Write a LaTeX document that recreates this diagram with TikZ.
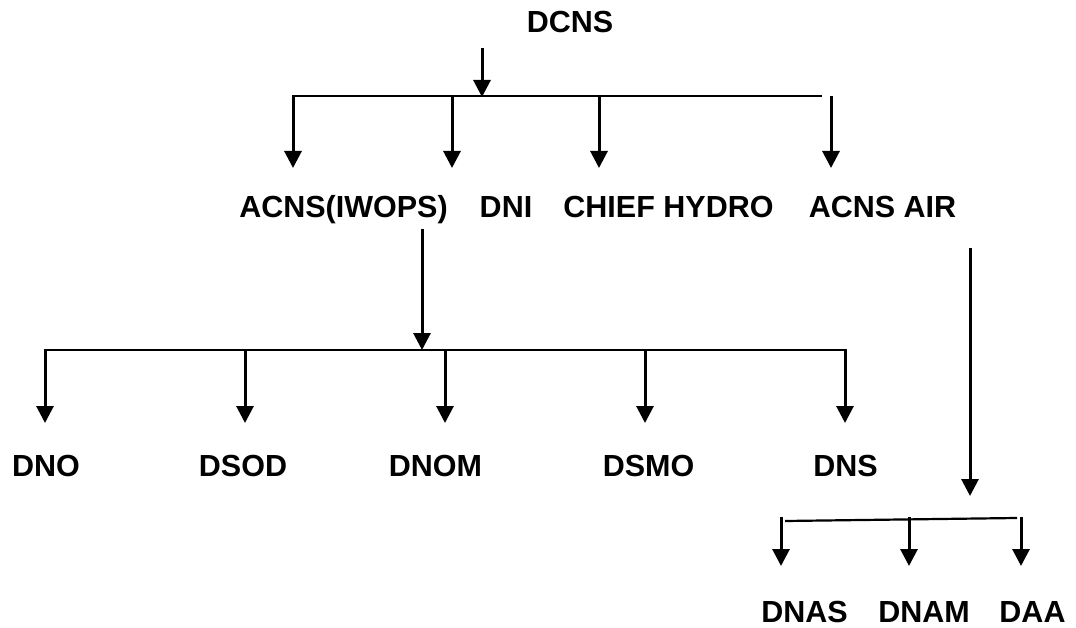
\documentclass[tikz,border=0pt]{standalone}
\usepackage{fontspec}
\setmainfont{Liberation Sans}
\usetikzlibrary{arrows.meta}
\tikzset{
	lbl/.style={font=\bfseries\fontsize{30.5}{36}\selectfont, inner sep=0pt, anchor=base},
	bus/.style={line width=2.2pt, color=black},
	arr/.style={line width=3pt, color=black, -{Triangle[width=17pt,length=17pt]}}
}

\begin{document}
\begin{tikzpicture}[x=1pt, y=-1pt]
		%%%%% START %%%%%
		\useasboundingbox (0, 0) rectangle (1076, 628);
		
		% names
		\node[lbl] (dcns) at (570, 33) {DCNS};
		
		\node[lbl] (acnsiwops) at (343.5, 218) {ACNS(IWOPS)};
		\node[lbl] (dni) at (506, 218) {DNI};
		\node[lbl] (chiefhydro) at (668.5, 218) {CHIEF HYDRO};
		\node[lbl] (acnsair) at (882.5, 218) {ACNS AIR};
		
		\node[lbl] (dno) at (46, 476) {DNO};
		\node[lbl] (dsod) at (243, 476) {DSOD};
		\node[lbl] (dnom) at (435.5, 476) {DNOM};
		\node[lbl] (dsmo) at (648.5, 476) {DSMO};
		\node[lbl] (dns) at (845.5, 476) {DNS};
		
		\node[lbl] (dnas) at (804.5, 622) {DNAS};
		\node[lbl] (dnam) at (924, 622) {DNAM};
		\node[lbl] (daa) at (1032.5, 622) {DAA};
		
		% top level
		\coordinate (dcnsout) at (482, 48);
		\coordinate (topbus) at (482, 97);
		\coordinate (topl) at (293, 96);
		\coordinate (topr) at (822, 96);
		\draw[arr] (dcnsout) -- (topbus);
		\draw[bus] (topl) -- (topr);
		
		\coordinate (dni-in) at (452, 96);
		\coordinate (hydro-in) at (599, 96);
		\coordinate (air-in) at (831, 96);
		\draw[arr] (293, 95) -- (293, 168);
		\draw[arr] (dni-in) -- (452, 168);
		\draw[arr] (hydro-in) -- (599, 168);
		\draw[arr] (air-in) -- (831, 168);
		
		% ACNS(IWOPS) branch
		\coordinate (iwopsout) at (422, 229);
		\coordinate (midbus) at (422, 350);
		\coordinate (midl) at (45, 350);
		\coordinate (midr) at (845, 350);
		\draw[arr] (iwopsout) -- (midbus);
		\draw[bus] (midl) -- (midr);
		
		\draw[arr] (45, 349) -- (45, 423);
		\draw[arr] (245, 350) -- (245, 423);
		\draw[arr] (445, 350) -- (445, 423);
		\draw[arr] (645, 350) -- (645, 423);
		\draw[arr] (845, 349) -- (845, 423);
		
		% ACNS AIR branch
		\coordinate (airout) at (970, 248);
		\coordinate (lowbus) at (970, 496);
		\coordinate (lowl) at (785, 521);
		\coordinate (lowr) at (1017, 518);
		\draw[arr] (airout) -- (lowbus);
		\draw[bus] (lowl) -- (lowr);
		
		\draw[arr] (781, 517) -- (781, 566);
		\draw[arr] (909, 517) -- (909, 566);
		\draw[arr] (1021, 517) -- (1021, 566);
		
		%%%%% END %%%%%
	\end{tikzpicture}
\end{document}
